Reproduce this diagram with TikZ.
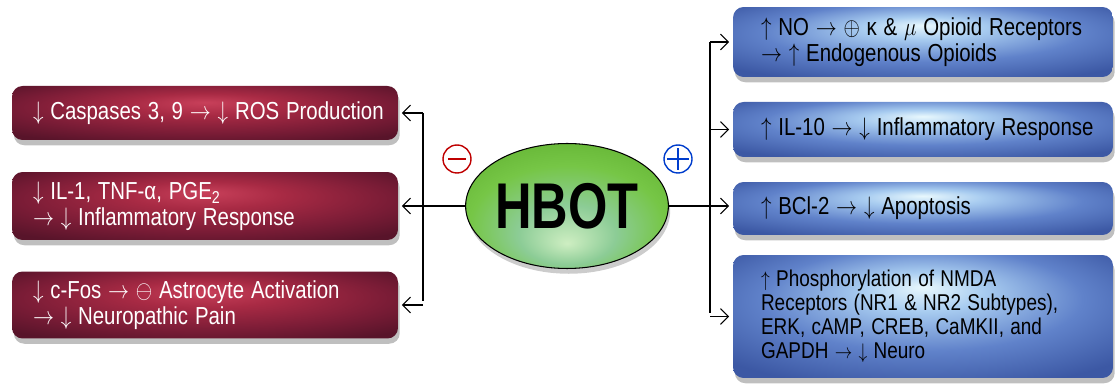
\documentclass[tikz,border=0pt]{standalone}
\usepackage{fontspec}
\setmainfont{Liberation Sans}
\usetikzlibrary{shapes.geometric,shadows,arrows.meta}

\definecolor{rg1}{RGB}{200,64,90}
\definecolor{rg2}{RGB}{168,42,68}
\definecolor{rg3}{RGB}{122,28,54}
\definecolor{rg4}{RGB}{88,20,42}
\definecolor{bg1}{RGB}{232,248,253}
\definecolor{bg2}{RGB}{168,204,240}
\definecolor{bg3}{RGB}{96,130,202}
\definecolor{bg4}{RGB}{60,88,164}
\definecolor{gg1}{RGB}{206,238,194}
\definecolor{gg2}{RGB}{140,204,150}
\definecolor{gg3}{RGB}{118,198,70}
\definecolor{gg4}{RGB}{100,180,52}
\pgfdeclareradialshading{redglow}{\pgfpoint{0bp}{10bp}}{color(0bp)=(rg1); color(10bp)=(rg2); color(24bp)=(rg3); color(34bp)=(rg4); color(50bp)=(rg4)}
\pgfdeclareradialshading{blueglow}{\pgfpoint{0bp}{12bp}}{color(0bp)=(bg1); color(8bp)=(bg2); color(21bp)=(bg3); color(34bp)=(bg4); color(50bp)=(bg4)}
\pgfdeclareradialshading{greenglow}{\pgfpoint{0bp}{-15bp}}{color(0bp)=(gg1); color(12bp)=(gg2); color(24bp)=(gg3); color(34bp)=(gg4); color(50bp)=(gg4)}

% narrow one line of box text
\newcommand\nar[1]{\scalebox{.83}[1]{#1}}

\begin{document}
\begin{tikzpicture}[x=0.02cm,y=-0.02cm,>={Straight Barb[length=4.5pt,width=9pt]},
  redbox/.style={rectangle,rounded corners=6pt,shading=redglow,text=white,
    drop shadow={opacity=.5,shadow xshift=1pt,shadow yshift=-3pt},
    align=left,inner xsep=.42cm,text width=6.88cm},
  bluebox/.style={rectangle,rounded corners=6pt,shading=blueglow,text=black,
    drop shadow={opacity=.5,shadow xshift=1pt,shadow yshift=-3pt},
    align=left,inner xsep=.56cm,text width=6.48cm},
  sign/.style={circle,draw=#1,line width=.8pt,minimum size=.56cm,inner sep=0pt},
  link/.style={line width=.6pt,shorten >=2pt}]
 \useasboundingbox (0,0) rectangle (1115,384);

 % left side: what goes down
 \foreach \nm/\yp/\bh/\txt in {
   L1/113/1.08/{\nar{$\downarrow$ Caspases 3, 9 $\rightarrow$ $\downarrow$ ROS Production}},
   L2/206/1.36/{\nar{$\downarrow$ IL-1, TNF-α, PGE\textsubscript{2}}\\\nar{$\rightarrow$ $\downarrow$ Inflammatory Response}},
   L3/305/1.34/{\nar{$\downarrow$ c-Fos $\rightarrow$ $\ominus$ Astrocyte Activation}\\\nar{$\rightarrow$ $\downarrow$ Neuropathic Pain}}
 } {
   \node[redbox,minimum height=\bh cm,font=\fontsize{14}{14.8}\selectfont]
     (\nm) at (205,\yp) {\txt};
 }

 % right side: what goes up
 \foreach \nm/\yp/\bh/\sz/\bs/\txt in {
   R1/42/1.40/14/15.2/{\nar{$\uparrow$ NO $\rightarrow$ $\oplus$ κ \& $\mu$ Opioid Receptors}\\\nar{$\rightarrow$ $\uparrow$ Endogenous Opioids}},
   R2/129.5/1.10/14/14.8/{\nar{$\uparrow$ IL-10 $\rightarrow$ $\downarrow$ Inflammatory Response}},
   R3/208.5/1.06/14/14.8/{\nar{$\uparrow$ BCl-2 $\rightarrow$ $\downarrow$ Apoptosis}},
   R4/316.5/2.46/13/13.6/{\nar{$\uparrow$ Phosphorylation of NMDA}\\\nar{Receptors (NR1 \& NR2 Subtypes),}\\\nar{ERK, cAMP, CREB, CaMKII, and}\\\nar{GAPDH $\rightarrow$ $\downarrow$ Neuro}}
 } {
   \node[bluebox,minimum height=\bh cm,font=\fontsize{\sz}{\bs}\selectfont]
     (\nm) at (923,\yp) {\txt};
 }

 \node[ellipse,draw=black,line width=.6pt,shading=greenglow,
   minimum width=3.8cm,minimum height=2.5cm,inner sep=0pt,
   drop shadow={opacity=.4,shadow xshift=1pt,shadow yshift=-3pt},
   font=\fontsize{32}{32}\selectfont\bfseries] (hbot) at (567,206) {\scalebox{.9}[1.15]{HBOT}};

 \node[sign=red!75!black] (minus) at (457,159) {};
 \draw[red!75!black,line width=.8pt] ([xshift=-5pt]minus.center) -- ([xshift=5pt]minus.center);
 \node[sign=blue!70!cyan!80!black] (plus) at (678,159) {};
 \draw[blue!70!cyan!80!black,line width=.8pt] ([xshift=-6pt]plus.center) -- ([xshift=6pt]plus.center)
   ([yshift=-6pt]plus.center) -- ([yshift=6pt]plus.center);

 % connectors
 \coordinate (lbus) at (423,0);
 \coordinate (rbus) at (710,0);
 \draw[link,->] (hbot.west) -- (hbot.west -| L2.east);
 \draw[link] (lbus |- L1.east) -- (lbus |- L3.east);
 \foreach \nm in {L1,L3}
   \draw[link,->] (lbus |- \nm.east) -- (\nm.east);
 \draw[link,->] (hbot.east) -- (hbot.east -| R3.west);
 \draw[link] (rbus |- R1.west) -- (rbus |- R4.west);
 \foreach \nm in {R1,R2,R4}
   \draw[link,->] (rbus |- \nm.west) -- (\nm.west);
\end{tikzpicture}
\end{document}
